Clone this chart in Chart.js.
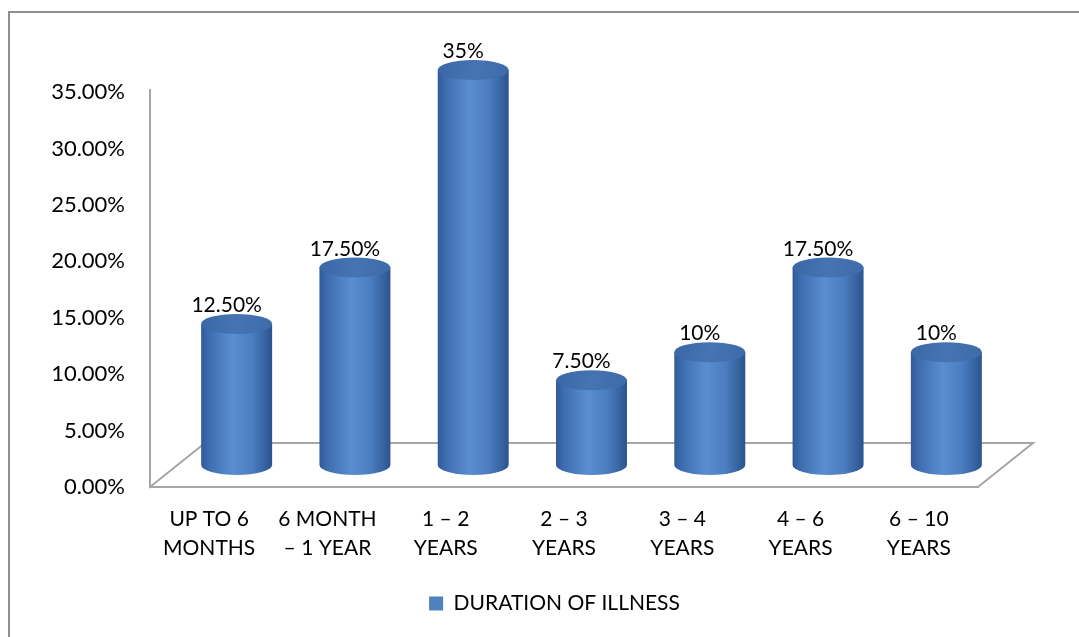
<!DOCTYPE html>
<html>
<head>
<meta charset="utf-8">
<script src="https://cdn.jsdelivr.net/npm/chart.js@4/dist/chart.umd.min.js"></script>
<style>
  html, body { margin: 0; padding: 0; background: #fff; }
  #wrap { width: 1079px; height: 637px; position: relative; }
</style>
</head>
<body>
<div id="wrap"><canvas id="c"></canvas></div>
<script>
// Categories (two-line axis labels)
const categories = [
  ['UP TO 6', 'MONTHS'],
  ['6 MONTH', '– 1 YEAR'],
  ['1 – 2', 'YEARS'],
  ['2 – 3', 'YEARS'],
  ['3 – 4', 'YEARS'],
  ['4 – 6', 'YEARS'],
  ['6 – 10', 'YEARS']
];
// Share of patients per duration band, in percent
const durationShare = [12.5, 17.5, 35, 7.5, 10, 17.5, 10];
// Value labels printed above each cylinder
const valueLabels = ['12.50%', '17.50%', '35%', '7.50%', '10%', '17.50%', '10%'];
const seriesName = 'DURATION OF ILLNESS';
const yMax = 35;
const yStep = 5;

const FONT = 'Lato, "Open Sans", sans-serif';
const DEPTH_X = 55;   // horizontal shift of the back edge of the floor
const DEPTH_Y = 44;   // vertical shift of the back edge of the floor
const AXIS_GREY = '#a6a6a6';

// Frame around the whole chart
const framePlugin = {
  id: 'frame',
  beforeDraw(chart) {
    const ctx = chart.ctx;
    ctx.save();
    ctx.strokeStyle = '#8e8e8e';
    ctx.lineWidth = 2;
    ctx.beginPath();
    ctx.moveTo(9, chart.height + 5);
    ctx.lineTo(9, 12);
    ctx.lineTo(chart.width + 5, 12);
    ctx.stroke();
    ctx.restore();
  }
};

// 3D floor under the cylinders
const floorPlugin = {
  id: 'floor3d',
  beforeDatasetsDraw(chart) {
    const {ctx, chartArea: a} = chart;
    const y0 = chart.scales.y.getPixelForValue(0);
    ctx.save();
    ctx.strokeStyle = AXIS_GREY;
    ctx.lineWidth = 2;
    ctx.beginPath();
    ctx.moveTo(a.left, a.top - 3);
    ctx.lineTo(a.left, y0);
    ctx.lineTo(a.left + DEPTH_X, y0 - DEPTH_Y);
    ctx.lineTo(a.right + DEPTH_X, y0 - DEPTH_Y);
    ctx.lineTo(a.right, y0);
    ctx.stroke();
    ctx.restore();
  }
};

// Draws each bar of the dataset as a shaded cylinder standing mid-depth on the floor
const cylinderPlugin = {
  id: 'cylinders',
  beforeDatasetDraw() {
    return false; // the flat bars are replaced by the cylinders below
  },
  afterDatasetsDraw(chart) {
    const ctx = chart.ctx;
    const meta = chart.getDatasetMeta(0);
    meta.data.forEach((bar, i) => {
      const cx = bar.x + DEPTH_X / 2;
      const top = bar.y - DEPTH_Y / 2;
      const base = bar.base - DEPTH_Y / 2;
      const rx = bar.width / 2;
      const ry = 10;

      ctx.save();
      const body = ctx.createLinearGradient(cx - rx, 0, cx + rx, 0);
      body.addColorStop(0, '#30599a');
      body.addColorStop(0.12, '#3f6eb0');
      body.addColorStop(0.45, '#5a8ed1');
      body.addColorStop(0.72, '#4b7dc0');
      body.addColorStop(1, '#2b548f');
      ctx.fillStyle = body;
      ctx.beginPath();
      ctx.moveTo(cx - rx, top);
      ctx.lineTo(cx - rx, base);
      ctx.ellipse(cx, base, rx, ry, 0, Math.PI, 0, true);
      ctx.lineTo(cx + rx, top);
      ctx.closePath();
      ctx.fill();

      const cap = ctx.createLinearGradient(cx - rx, top - ry, cx + rx, top + ry);
      cap.addColorStop(0, '#3a66a4');
      cap.addColorStop(0.5, '#4674b3');
      cap.addColorStop(1, '#3d6aa8');
      ctx.fillStyle = cap;
      ctx.beginPath();
      ctx.ellipse(cx, top, rx, ry, 0, 0, Math.PI * 2);
      ctx.fill();

      ctx.fillStyle = '#000';
      ctx.font = '21px ' + FONT;
      ctx.textAlign = 'center';
      ctx.textBaseline = 'alphabetic';
      ctx.fillText(valueLabels[i], cx - 10, top - ry - 2);
      ctx.restore();
    });
  }
};

new Chart(document.getElementById('c'), {
  type: 'bar',
  data: {
    labels: categories,
    datasets: [{
      label: seriesName,
      data: durationShare,
      backgroundColor: '#4f81bd',
      borderWidth: 0,
      barPercentage: 0.6,
      categoryPercentage: 1
    }]
  },
  options: {
    responsive: true,
    maintainAspectRatio: false,
    animation: false,
    devicePixelRatio: 1,
    layout: { padding: { left: 30, right: 0, top: 92, bottom: 13 } },
    plugins: {
      tooltip: { enabled: false },
      legend: {
        position: 'bottom',
        labels: {
          boxWidth: 14,
          boxHeight: 14,
          padding: 6,
          color: '#000',
          font: { family: FONT, size: 21 }
        }
      }
    },
    scales: {
      x: {
        grid: { display: false, drawTicks: false },
        border: { display: true, color: AXIS_GREY, width: 2 },
        ticks: {
          color: '#000',
          padding: 18,
          maxRotation: 0,
          autoSkip: false,
          font: { family: FONT, size: 21, lineHeight: '29px' }
        },
        afterFit(s) { s.height = 100; }
      },
      y: {
        min: 0,
        max: yMax,
        grid: { display: false, drawTicks: false },
        border: { display: false },
        ticks: {
          stepSize: yStep,
          color: '#000',
          padding: 25,
          font: { family: FONT, size: 22 },
          callback: v => v.toFixed(2) + '%'
        },
        afterFit(s) { s.width = 120; }
      },
      rightGap: {
        type: 'linear',
        position: 'right',
        display: true,
        grid: { display: false, drawTicks: false },
        border: { display: false },
        ticks: { display: false },
        afterFit(s) { s.width = 101; }
      }
    }
  },
  plugins: [framePlugin, floorPlugin, cylinderPlugin]
});
</script>
</body>
</html>
